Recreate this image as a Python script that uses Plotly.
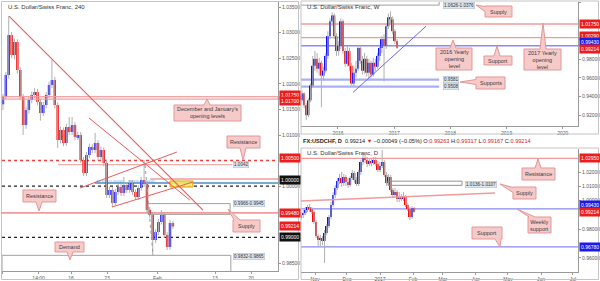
import plotly.graph_objects as go

FIG_W, FIG_H = 600, 281
FONT = "Liberation Sans, Arial, sans-serif"


def X(px):
    return px / FIG_W


def Y(py):
    return 1 - py / FIG_H


# ---------------- USD/CHF 240 (4h) ----------------
L_O = [1.01600, 1.01742, 1.02172, 1.02953, 1.02563, 1.02816, 1.02270, 1.01742, 1.01195, 1.01488,
       1.01684, 1.01781, 1.01840, 1.01645, 1.01430, 1.01586, 1.01781, 1.01977, 1.02074, 1.01586,
       1.00902, 1.01098, 1.00844, 1.01156, 1.01059, 1.01195, 1.00961, 1.01000, 1.00512, 1.00258,
       1.00609, 1.00766, 1.00707, 1.00844, 1.00570, 1.00707, 1.00453, 0.99828, 0.99926, 0.99672,
       0.99887, 0.99984, 0.99867, 1.00023, 0.99926, 1.00063, 0.99887, 0.99789, 0.99965, 1.00121,
       1.00043, 0.99535, 0.99438, 0.98949, 0.99105, 0.99301, 0.99438, 0.99047, 0.98813, 0.99281]
L_H = [1.01800, 1.02230, 1.03324, 1.03010, 1.02880, 1.02870, 1.02330, 1.01800, 1.01550, 1.01740,
       1.01850, 1.01920, 1.01900, 1.01700, 1.01650, 1.01840, 1.02040, 1.02465, 1.02130, 1.01640,
       1.01160, 1.01150, 1.01220, 1.01352, 1.01352, 1.01250, 1.01060, 1.01060, 1.00570, 1.00670,
       1.00830, 1.00820, 1.01039, 1.00900, 1.00770, 1.00760, 1.00510, 0.99990, 0.99980, 0.99950,
       1.00040, 1.00040, 1.00180, 1.00080, 1.00120, 1.00120, 0.99940, 1.00020, 1.00180, 1.00512,
       1.00100, 0.99590, 0.99490, 0.99160, 0.99360, 0.99535, 0.99490, 0.99100, 0.99340, 0.99317]
L_L = [1.01488, 1.01700, 1.02100, 1.02500, 1.02480, 1.02200, 1.01680, 1.01000, 1.01120, 1.01420,
       1.01620, 1.01720, 1.01580, 1.01280, 1.01370, 1.01520, 1.01720, 1.01920, 1.01520, 1.00746,
       1.00840, 1.00780, 1.00790, 1.01000, 1.01000, 1.00900, 1.00900, 1.00450, 1.00199, 1.00200,
       1.00550, 1.00650, 1.00650, 1.00510, 1.00510, 1.00390, 0.99770, 0.99770, 0.99594, 0.99620,
       0.99830, 0.99810, 0.99810, 0.99870, 0.99870, 0.99830, 0.99730, 0.99730, 0.99910, 0.99990,
       0.99480, 0.99380, 0.98656, 0.98890, 0.99050, 0.99250, 0.98990, 0.98754, 0.98760, 0.99167]
L_C = [1.01742, 1.02172, 1.02953, 1.02563, 1.02816, 1.02270, 1.01742, 1.01195, 1.01488, 1.01684,
       1.01781, 1.01840, 1.01645, 1.01430, 1.01586, 1.01781, 1.01977, 1.02074, 1.01586, 1.00902,
       1.01098, 1.00844, 1.01156, 1.01059, 1.01195, 1.00961, 1.01000, 1.00512, 1.00258, 1.00609,
       1.00766, 1.00707, 1.00844, 1.00570, 1.00707, 1.00453, 0.99828, 0.99926, 0.99672, 0.99887,
       0.99984, 0.99867, 1.00023, 0.99926, 1.00063, 0.99887, 0.99789, 0.99965, 1.00121, 1.00043,
       0.99535, 0.99438, 0.98949, 0.99105, 0.99301, 0.99438, 0.99047, 0.98813, 0.99281, 0.99214]
# time axis: trading days since 2 Jan 2017, 4h bars grouped in 0.4-day slots
L_X = [0.55 + 0.4 * i for i in range(len(L_C))]
L_XTICKS = [0.45, 5.5, 10, 15, 22, 30, 35]
L_XTEXT = ["2017", "14:00", "16", "23", "Feb", "13", "20"]
L_YTICKS = [0.985, 1.000, 1.010, 1.015, 1.020, 1.025, 1.030, 1.035]

# ---------------- USD/CHF W ----------------
W_O = [0.93611, 0.94347, 0.93084, 0.92032, 0.93611, 0.95189, 0.97295, 0.98032, 0.96979, 0.97611,
       0.96242, 0.96768, 0.98347, 1.00453, 1.02032, 1.02663, 1.00453, 0.98874, 0.99400, 1.02032,
       0.98874, 0.97505, 0.98874, 0.97295, 0.95400, 0.96558, 0.96979, 0.99189, 0.97821, 0.96768,
       0.98032, 0.96558, 0.97611, 0.96347, 0.97611, 0.97189, 0.98347, 0.99189, 1.00137, 0.99400,
       1.01505, 1.02453, 1.02242, 1.00979, 0.99926]
W_H = [0.94663, 0.94453, 0.93295, 0.93821, 0.95400, 0.98347, 0.98874, 0.98663, 0.98137, 0.97821,
       0.97189, 0.98663, 1.00979, 1.02347, 1.02979, 1.02874, 1.00768, 0.99926, 1.02347, 1.02242,
       0.99189, 0.99400, 0.99189, 0.97611, 0.97295, 0.97821, 0.99505, 0.99505, 0.98347, 0.98663,
       0.98347, 0.98032, 0.97821, 0.98137, 0.98032, 0.98663, 0.99505, 1.00453, 1.00663, 1.01821,
       1.02874, 1.03084, 1.02558, 1.01189, 1.00137]
W_L = [0.93400, 0.92768, 0.91505, 0.91821, 0.93400, 0.94979, 0.96768, 0.96558, 0.96242, 0.92874,
       0.95716, 0.96558, 0.98032, 1.00137, 1.01505, 1.00137, 0.98347, 0.98347, 0.99084, 0.98558,
       0.97189, 0.97189, 0.96768, 0.95189, 0.95084, 0.96032, 0.96768, 0.97505, 0.96347, 0.96453,
       0.96137, 0.95716, 0.96032, 0.96137, 0.96768, 0.96979, 0.97821, 0.98663, 0.95611, 0.99084,
       1.01189, 1.01821, 1.00663, 0.99611, 0.99084]
W_C = [0.94347, 0.93084, 0.92032, 0.93611, 0.95189, 0.97295, 0.98032, 0.96979, 0.97611, 0.96242,
       0.96768, 0.98347, 1.00453, 1.02032, 1.02663, 1.00453, 0.98874, 0.99400, 1.02032, 0.98874,
       0.97505, 0.98874, 0.97295, 0.95400, 0.96558, 0.96979, 0.99189, 0.97821, 0.96768, 0.98032,
       0.96558, 0.97611, 0.96347, 0.97611, 0.97189, 0.98347, 0.99189, 1.00137, 0.99400, 1.01505,
       1.02453, 1.02242, 1.00979, 0.99926, 0.99214]
# time axis in years, one slot per two weeks
W_X = [2015.359 + 0.03843 * i for i in range(len(W_C))]
W_XTICKS = [2016, 2017, 2018, 2019, 2020]
W_YTICKS = [0.92, 0.94, 0.96, 0.98, 1.04]

# ---------------- USD/CHF D ----------------
D_O = [0.98790, 0.99000, 0.99139, 0.99348, 0.99558, 0.99418, 0.99209, 0.98511, 0.97534, 0.97255,
       0.97394, 0.97185, 0.97743, 0.98232, 0.98860, 0.99697, 1.00395, 1.00883, 1.01372, 1.01581,
       1.01232, 1.01651, 1.01302, 1.01093, 1.01581, 1.01930, 1.01442, 1.01163, 1.02000, 1.02698,
       1.02977, 1.02837, 1.02558, 1.02768, 1.02628, 1.02837, 1.02558, 1.02140, 1.02419, 1.02698,
       1.01791, 1.01232, 1.01651, 1.00744, 1.00395, 1.00604, 1.00116, 1.00255, 1.00116, 1.00255,
       0.99697, 0.99418, 0.98860, 0.99488]
D_H = [0.99209, 0.99348, 0.99558, 0.99697, 0.99767, 0.99558, 0.99348, 0.98650, 0.97673, 0.97604,
       0.97534, 0.97953, 0.98371, 0.99000, 0.99907, 1.00604, 1.01093, 1.01581, 1.01860, 1.02000,
       1.01860, 1.01791, 1.01581, 1.01721, 1.02140, 1.02070, 1.01651, 1.02140, 1.02837, 1.03186,
       1.03326, 1.03047, 1.02977, 1.02977, 1.03047, 1.03047, 1.02768, 1.02698, 1.03535, 1.02837,
       1.02000, 1.01860, 1.01791, 1.00883, 1.00883, 1.00744, 1.00604, 1.00465, 1.00604, 1.00395,
       0.99837, 0.99558, 0.99627, 0.99558]
D_L = [0.98650, 0.98790, 0.99000, 0.99209, 0.99209, 0.99069, 0.98371, 0.97394, 0.96836, 0.96766,
       0.96906, 0.95650, 0.97604, 0.98092, 0.98720, 0.99558, 1.00186, 1.00744, 1.01163, 1.00953,
       1.01023, 1.01023, 1.00883, 1.00953, 1.01442, 1.01232, 1.01023, 1.01023, 1.01791, 1.02488,
       1.02628, 1.02349, 1.02419, 1.02419, 1.02488, 1.02419, 1.02000, 1.02000, 1.02279, 1.01651,
       1.01023, 1.01093, 1.00604, 1.00255, 1.00255, 0.99907, 0.99907, 0.99976, 0.99976, 0.99558,
       0.99279, 0.98650, 0.98720, 0.99174]
D_C = [0.99000, 0.99139, 0.99348, 0.99558, 0.99418, 0.99209, 0.98511, 0.97534, 0.97255, 0.97394,
       0.97185, 0.97743, 0.98232, 0.98860, 0.99697, 1.00395, 1.00883, 1.01372, 1.01581, 1.01232,
       1.01651, 1.01302, 1.01093, 1.01581, 1.01930, 1.01442, 1.01163, 1.02000, 1.02698, 1.02977,
       1.02837, 1.02558, 1.02768, 1.02628, 1.02837, 1.02558, 1.02140, 1.02419, 1.02698, 1.01791,
       1.01232, 1.01651, 1.00744, 1.00395, 1.00604, 1.00116, 1.00255, 1.00116, 1.00255, 0.99697,
       0.99418, 0.98860, 0.99488, 0.99214]
# time axis: calendar days since 1 Nov 2016, one slot per two days
D_X = [-13 + 2 * i for i in range(len(D_C))]
D_XTICKS = [0, 30, 61, 92, 120, 151, 181, 212, 242]
D_XTEXT = ["Nov", "Dec", "2017", "Feb", "Mar", "Apr", "May", "Jun", "Jul"]
D_YTICKS = [0.96, 0.98, 1.00, 1.01, 1.02]

UP, DOWN, WICK = "#1010ff", "#f40a0a", "#b0b0b0"
PINK_LINE = "#f29a9a"
BLUE_LINE = "#8a8af5"
TREND = "#ee5a5a"

fig = go.Figure()


def add_candles(xs, o, h, l, c, xa, ya, width):
    wx, wy = [], []
    for xi, hi, li in zip(xs, h, l):
        wx += [xi, xi, None]
        wy += [li, hi, None]
    fig.add_trace(go.Scatter(x=wx, y=wy, mode="lines", line=dict(color=WICK, width=1),
                             xaxis=xa, yaxis=ya, hoverinfo="skip", showlegend=False))
    fig.add_trace(go.Bar(x=xs, y=[ci - oi for oi, ci in zip(o, c)], base=o, width=width,
                         marker=dict(color=[UP if ci >= oi else DOWN for oi, ci in zip(o, c)],
                                     line=dict(width=0)), opacity=1,
                         xaxis=xa, yaxis=ya, hoverinfo="skip", showlegend=False))


add_candles(L_X, L_O, L_H, L_L, L_C, "x", "y", 0.34)
add_candles(W_X, W_O, W_H, W_L, W_C, "x2", "y2", 0.034)
add_candles(D_X, D_O, D_H, D_L, D_C, "x3", "y3", 1.8)


def hline(v, xa, ya, color, width=1.0, dash="solid", x0=None, x1=None, layer="below"):
    if x0 is None:
        xref, x0, x1 = xa + " domain", 0, 1
    else:
        xref = xa
    fig.add_shape(type="line", xref=xref, yref=ya, x0=x0, x1=x1, y0=v, y1=v,
                  line=dict(color=color, width=width, dash=dash), layer=layer)


def seg(xa, ya, p0, p1, color, width=1.0, dash="solid"):
    fig.add_shape(type="line", xref=xa, yref=ya, x0=p0[0], y0=p0[1], x1=p1[0], y1=p1[1],
                  line=dict(color=color, width=width, dash=dash), layer="above")


def box(xa, ya, x0, x1, y0, y1, line="#9a9a9a", fill="rgba(0,0,0,0)", width=1.0):
    fig.add_shape(type="rect", xref=xa, yref=ya, x0=x0, x1=x1, y0=y0, y1=y1,
                  line=dict(color=line, width=width), fillcolor=fill, layer="above")


# ---- left panel levels ----
box("x domain", "y", 0, 1, 1.0170, 1.0175, line=PINK_LINE, fill="rgba(242,154,154,0.25)")
hline(1.0050, "x", "y", "#f04040", 1.5, "dot")
hline(1.0042, "x", "y", PINK_LINE, 1, x0=8.2, x1=32.4)
hline(1.0000, "x", "y", "#222222", 1.2, "dot")
hline(1.00063, "x", "y", "#4a8cc4", 1.6, x0=13.3, x1=38.75)
hline(1.00141, "x", "y", "#e07070", 1.2, x0=21.0, x1=38.75)
hline(0.9948, "x", "y", PINK_LINE, 1.6)
hline(0.9900, "x", "y", "#222222", 1.2, "dot")
box("x", "y", 20.7, 32.1, 0.9945, 0.9966, line="#a0a0a0")
box("x", "y", 0.42, 32.2, 0.9832, 0.9865, line="#a0a0a0")
box("x", "y", 23.75, 26.94, 0.99984, 1.00102, line="#d9a400", fill="rgba(255,236,90,0.85)")
seg("x", "y", (1.39, 1.03324), (28.33, 0.99535), TREND, 1.1)
seg("x", "y", (12.5, 1.01332), (26.5, 0.99730), TREND)
seg("x", "y", (11.25, 0.99965), (24.72, 1.00668), TREND)
seg("x", "y", (15.7, 0.99594), (26.9, 1.00082), TREND)
seg("x", "y", (20.28, 1.00414), (21.39, 0.98656), "#999999", 1, "dot")

# ---- weekly panel levels ----
hline(1.0175, "x2", "y2", PINK_LINE, 1.3)
hline(1.0029, "x2", "y2", PINK_LINE, 1.3)
hline(0.9943, "x2", "y2", BLUE_LINE, 1.3)
hline(0.9581, "x2", "y2", "#a9b0f2", 2.2, x0=2015.3, x1=2017.8)
hline(0.9508, "x2", "y2", "#a9b0f2", 2.2, x0=2015.3, x1=2017.8)
box("x2", "y2", 2015.3, 2017.8, 1.0376, 1.0626, line="#a0a0a0")
seg("x2", "y2", (2016.267, 0.94453), (2017.566, 1.01505), "#6a6af0")

# ---- daily panel levels ----
hline(1.0295, "x3", "y3", PINK_LINE, 1.3)
hline(0.9943, "x3", "y3", BLUE_LINE, 1.3)
hline(0.9678, "x3", "y3", BLUE_LINE, 1.3)
box("x3", "y3", 68.5, 137.9, 1.0107, 1.0136, line="#909090")
seg("x3", "y3", (-14.1, 0.99976), (168.9, 1.00535), "#f29a9a", 1.4)

# ---- panel frames ----
for (x0, y0, x1, y1) in [(1.5, 1.5, 298.5, 279.5), (301, 1, 598.5, 134), (301, 148, 598.5, 279.5)]:
    fig.add_shape(type="rect", xref="paper", yref="paper", x0=X(x0), x1=X(x1), y0=Y(y1), y1=Y(y0),
                  line=dict(color="#c4c4c4", width=1), fillcolor="rgba(0,0,0,0)", layer="above")


def pricebox(v, ya, text, bg, x_px, yshift=0):
    fig.add_annotation(xref="paper", yref=ya, x=X(x_px), y=v, text=text, showarrow=False,
                       xanchor="left", yanchor="middle", bgcolor=bg, borderpad=1, yshift=yshift,
                       font=dict(color="white", size=5, family=FONT))


RED, BLUE, BLACK = "#ee1c1c", "#1a1aee", "#111111"
pricebox(1.0175, "y", "1.01750", RED, 279, 2)
pricebox(1.0170, "y", "1.01700", RED, 279, -2)
pricebox(1.0050, "y", "1.00500", RED, 279, 3)
pricebox(1.0000, "y", "1.00000", BLACK, 279, 6)
pricebox(0.9948, "y", "0.99480", RED, 279, 0)
pricebox(0.99214, "y", "0.99214", RED, 279, 0)
pricebox(0.9900, "y", "0.99000", BLACK, 279, 0)

pricebox(1.0175, "y2", "1.01750", RED, 579, 0)
pricebox(1.0029, "y2", "1.00290", RED, 579, 2)
pricebox(0.9943, "y2", "0.99430", BLUE, 579, 4)
pricebox(0.99214, "y2", "0.99214", RED, 579, -1)

pricebox(1.0295, "y3", "1.02950", RED, 579, 0)
pricebox(0.9943, "y3", "0.99430", BLUE, 579, 3.5)
pricebox(0.99214, "y3", "0.99214", RED, 579, 0)
pricebox(0.9678, "y3", "0.96780", BLUE, 579, 0)


def glabel(text, x_px, y_px):
    fig.add_annotation(xref="paper", yref="paper", x=X(x_px), y=Y(y_px), text=text, showarrow=False,
                       xanchor="left", yanchor="middle", bgcolor="#dde5ee", bordercolor="#aab6c6",
                       borderwidth=0.5, borderpad=0.5, font=dict(size=4.6, color="#333", family=FONT))


glabel("1.0042", 233, 164)
glabel("0.9966-0.9945", 233, 203)
glabel("0.9832-0.9865", 233, 256)
glabel("1.0626-1.0376", 443, 5)
glabel("0.9581", 443, 79)
glabel("0.9508", 443, 86)
glabel("1.0136-1.0107", 465, 184)

fig.add_annotation(xref="paper", yref="paper", x=X(94), y=Y(181), text="78.6% (1.0006)    78.6% (1.0006)",
                   showarrow=False, xanchor="left", yanchor="middle",
                   font=dict(size=4, color="#5b9bd5", family=FONT))


def callout(x0, y0, x1, y1, direction, tip, text):
    tx, ty = tip
    if direction == "u":
        bx = min(max(tx, x0 + 4), x1 - 4)
        pts = [(x0, y0), (bx - 3, y0), (tx, ty), (bx + 3, y0), (x1, y0), (x1, y1), (x0, y1)]
    elif direction == "d":
        bx = min(max(tx, x0 + 4), x1 - 4)
        pts = [(x0, y0), (x1, y0), (x1, y1), (bx + 3, y1), (tx, ty), (bx - 3, y1), (x0, y1)]
    else:
        by = min(max(ty, y0 + 3), y1 - 3)
        pts = [(x0, y0), (x1, y0), (x1, y1), (x0, y1), (x0, by + 2.5), (tx, ty), (x0, by - 2.5)]
    path = "M " + " L ".join(f"{X(a):.5f},{Y(b):.5f}" for a, b in pts) + " Z"
    fig.add_shape(type="path", xref="paper", yref="paper", path=path, fillcolor="#f7caca",
                  line=dict(color="#e39696", width=1), layer="above")
    fig.add_annotation(xref="paper", yref="paper", x=X((x0 + x1) / 2), y=Y((y0 + y1) / 2), text=text,
                       showarrow=False, xanchor="center", yanchor="middle",
                       font=dict(size=5.5, color="#3a3a3a", family=FONT))


callout(174, 105, 241, 121, "u", (207, 99), "December and January's<br>opening levels")
callout(227, 136, 260, 148, "d", (243, 160), "Resistance")
callout(23, 190, 56, 202, "d", (39, 211), "Resistance")
callout(233, 220, 260, 232, "u", (228, 209), "Supply")
callout(55, 242, 84, 252, "d", (70, 260), "Demand")
callout(485, 6, 512, 17, "l", (476, 5), "Supply")
callout(436, 48, 472, 70, "u", (453, 40), "2016 Yearly<br>opening<br>level")
callout(484, 56, 512, 65, "u", (497, 46), "Support")
callout(476, 77, 505, 89, "l", (460, 82), "Supports")
callout(524, 49, 561, 70, "u", (543, 23), "2017 Yearly<br>opening<br>level")
callout(522, 168, 555, 180, "u", (538, 159), "Resistance")
callout(513, 187, 536, 199, "l", (500, 184), "Supply")
callout(528, 217, 551, 233, "u", (517, 209), "Weekly<br>support")
callout(472, 227, 502, 239, "d", (500, 247), "Support")

# titles and header
for txt, xp, yp in [("U.S. Dollar/Swiss Franc, 240", 6, 7), ("U.S. Dollar/Swiss Franc, W", 305, 7),
                    ("U.S. Dollar/Swiss Franc, D", 305, 153)]:
    fig.add_annotation(xref="paper", yref="paper", x=X(xp), y=Y(yp), text=txt, showarrow=False,
                       xanchor="left", yanchor="middle", font=dict(size=6, color="#333", family=FONT))

hdr = ("<b>FX:USDCHF, D</b>  0.99214 <span style='color:#d42020'>▼</span> −0.00049 (−0.05%) "
       "O:<span style='color:#d42020'>0.99263</span> H:<span style='color:#d42020'>0.99317</span> "
       "L:<span style='color:#d42020'>0.99167</span> C:<span style='color:#d42020'>0.99214</span>")
fig.add_annotation(xref="paper", yref="paper", x=X(301), y=Y(140.5), text=hdr, showarrow=False,
                   xanchor="left", yanchor="middle", font=dict(size=5.6, color="#222", family=FONT))

axis_common = dict(showgrid=False, zeroline=False, showline=True, linecolor="#9a9a9a", linewidth=1,
                   ticks="outside", ticklen=2, tickcolor="#9a9a9a",
                   tickfont=dict(size=5, color="#555", family=FONT), fixedrange=True)

fig.update_layout(
    width=FIG_W, height=FIG_H, margin=dict(l=0, r=0, t=0, b=0),
    paper_bgcolor="white", plot_bgcolor="white", barmode="overlay", showlegend=False,
    xaxis=dict(domain=[X(2), X(278)], range=[0.4167, 38.75], anchor="y",
               tickvals=L_XTICKS, ticktext=L_XTEXT, **axis_common),
    yaxis=dict(domain=[Y(271), Y(2)], range=[0.98344, 1.03598], anchor="x", side="right",
               tickvals=L_YTICKS, ticktext=[f"{v:.5f}" for v in L_YTICKS], **axis_common),
    xaxis2=dict(domain=[X(301), X(578)], range=[2015.342, 2020.27], anchor="y2",
                tickvals=W_XTICKS, ticktext=[str(v) for v in W_XTICKS], **axis_common),
    yaxis2=dict(domain=[Y(126), Y(2)], range=[0.90874, 1.04093], anchor="x2", side="right",
                tickvals=W_YTICKS, ticktext=[f"{v:.5f}" for v in W_YTICKS], **axis_common),
    xaxis3=dict(domain=[X(301), X(578)], range=[-13.13, 246.7], anchor="y3",
                tickvals=D_XTICKS, ticktext=D_XTEXT, **axis_common),
    yaxis3=dict(domain=[Y(272), Y(149)], range=[0.95022, 1.03605], anchor="x3", side="right",
                tickvals=D_YTICKS, ticktext=[f"{v:.5f}" for v in D_YTICKS], **axis_common),
)

fig.write_html("out.html")
